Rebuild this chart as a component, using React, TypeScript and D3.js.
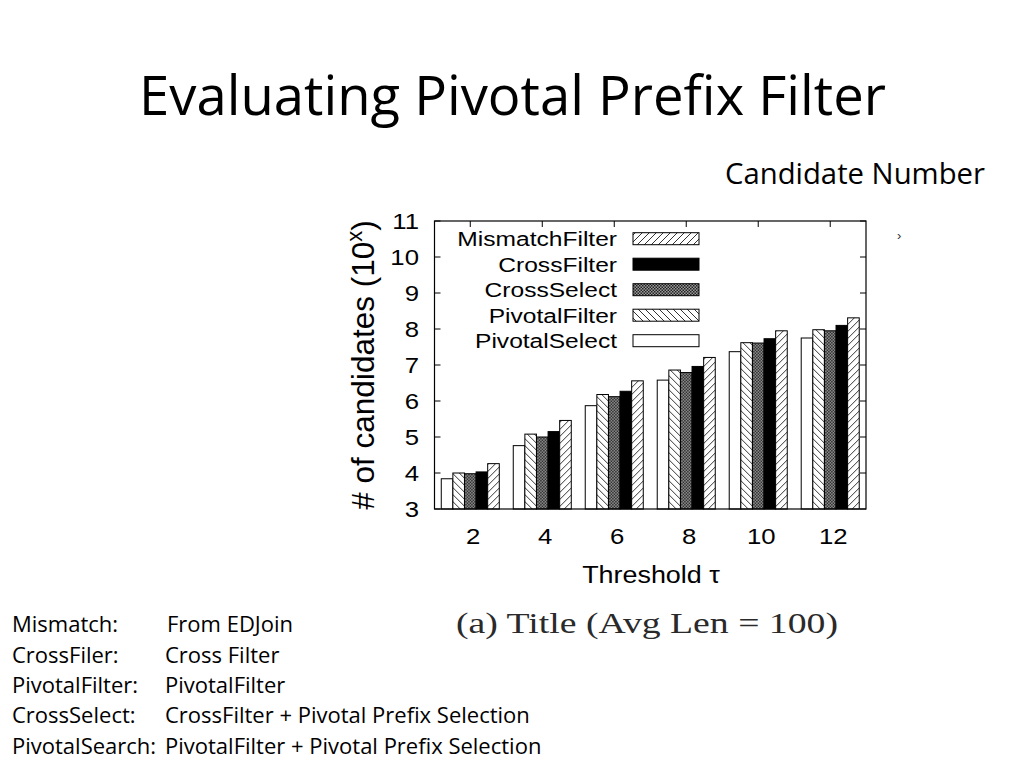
import React from "react";
import * as d3 from "d3";

const thresholds = ["2", "4", "6", "8", "10", "12"];
const pivotalSelect = [3.84, 4.76, 5.87, 6.58, 7.37, 7.75];
const pivotalFilter = [4.0, 5.08, 6.18, 6.86, 7.62, 7.98];
const crossSelect = [3.98, 5.0, 6.12, 6.79, 7.61, 7.95];
const crossFilter = [4.03, 5.15, 6.27, 6.96, 7.73, 8.1];
const mismatchFilter = [4.26, 5.46, 6.56, 7.21, 7.95, 8.31];
const yTicks = [3, 4, 5, 6, 7, 8, 9, 10, 11];
const seriesNames = ["PivotalSelect", "PivotalFilter", "CrossSelect", "CrossFilter", "MismatchFilter"];
const legendOrder = ["MismatchFilter", "CrossFilter", "CrossSelect", "PivotalFilter", "PivotalSelect"];
const footerTerms = ["Mismatch:", "CrossFiler:", "PivotalFilter:", "CrossSelect:", "PivotalSearch:"];
const footerDescs = [
  "From EDJoin",
  "Cross Filter",
  "PivotalFilter",
  "CrossFilter + Pivotal Prefix Selection",
  "PivotalFilter + Pivotal Prefix Selection",
];

const seriesValues: Record<string, number[]> = {
  PivotalSelect: pivotalSelect,
  PivotalFilter: pivotalFilter,
  CrossSelect: crossSelect,
  CrossFilter: crossFilter,
  MismatchFilter: mismatchFilter,
};

const fills: Record<string, string> = {
  PivotalSelect: "#ffffff",
  PivotalFilter: "url(#hatchBack)",
  CrossSelect: "url(#checker)",
  CrossFilter: "#000000",
  MismatchFilter: "url(#hatchFwd)",
};

const sans = "'Liberation Sans', Arial, sans-serif";
const calibri = "'Open Sans', 'Noto Sans', sans-serif";

export default function App() {
  const left = 434.5;
  const right = 866;
  const top = 221;
  const bottom = 509;
  const sx = 1.17;

  const x = d3
    .scaleBand<string>()
    .domain(thresholds)
    .range([left, right])
    .paddingInner(0.194)
    .paddingOuter(0.094);
  const xi = d3.scaleBand<string>().domain(seriesNames).range([0, x.bandwidth()]);
  const y = d3.scaleLinear().domain([3, 11]).range([bottom, top]);

  const legendY = d3.scalePoint<string>().domain(legendOrder).range([238.7, 340.7]);

  return (
    <svg
      width={1024}
      height={768}
      style={{ position: "absolute", left: 0, top: 0, background: "#fff" }}
    >
      <defs>
        <pattern id="hatchFwd" patternUnits="userSpaceOnUse" width={7} height={7}>
          <rect width={7} height={7} fill="#fff" />
          <path d="M-1,1 l2,-2 M0,7 l7,-7 M6,8 l2,-2" stroke="#000" strokeWidth={0.8} />
        </pattern>
        <pattern id="hatchBack" patternUnits="userSpaceOnUse" width={7} height={7}>
          <rect width={7} height={7} fill="#fff" />
          <path d="M-1,6 l2,2 M0,0 l7,7 M6,-1 l2,2" stroke="#000" strokeWidth={0.8} />
        </pattern>
        <pattern id="checker" patternUnits="userSpaceOnUse" width={3} height={3}>
          <rect width={3} height={3} fill="#9a9a9a" />
          <rect width={1.5} height={1.5} fill="#222" />
          <rect x={1.5} y={1.5} width={1.5} height={1.5} fill="#222" />
        </pattern>
      </defs>

      {/* Title */}
      <text
        x={139}
        y={115}
        fontFamily={calibri}
        fontSize={54.5}
        textLength={747}
        lengthAdjust="spacingAndGlyphs"
        fill="#000"
      >
        Evaluating Pivotal Prefix Filter
      </text>
      <text
        x={725}
        y={184}
        fontFamily={calibri}
        fontSize={29.5}
        textLength={260}
        lengthAdjust="spacingAndGlyphs"
        fill="#000"
      >
        Candidate Number
      </text>
      <text x={897} y={240} fontFamily={sans} fontSize={13} fill="#333">
        ›
      </text>

      {/* ticks (drawn under bars) */}
      {yTicks.map((t) => (
        <g key={"yt" + t}>
          <line x1={left} x2={left + 6} y1={y(t)} y2={y(t)} stroke="#000" />
          <line x1={right - 6} x2={right} y1={y(t)} y2={y(t)} stroke="#000" />
          <text
            transform={`translate(419,${y(t)}) scale(${sx},1)`}
            textAnchor="end"
            dy="0.36em"
            fontFamily={sans}
            fontSize={22}
            fill="#000"
          >
            {t}
          </text>
        </g>
      ))}
      {thresholds.map((t) => {
        const cx = (x(t) as number) + x.bandwidth() / 2;
        return (
          <g key={"xt" + t}>
            <line x1={cx} x2={cx} y1={top} y2={top + 6} stroke="#000" />
            <line x1={cx} x2={cx} y1={bottom} y2={bottom - 6} stroke="#000" />
            <text
              transform={`translate(${cx + 3},${544}) scale(${sx},1)`}
              textAnchor="middle"
              fontFamily={sans}
              fontSize={22}
              fill="#000"
            >
              {t}
            </text>
          </g>
        );
      })}

      {/* bars */}
      {thresholds.map((t, i) => (
        <g key={"grp" + t} transform={`translate(${x(t)},0)`}>
          {seriesNames.map((s) => {
            const v = seriesValues[s][i];
            return (
              <rect
                key={s}
                x={xi(s)}
                y={y(v)}
                width={xi.bandwidth()}
                height={bottom - y(v)}
                fill={fills[s]}
                stroke="#000"
                strokeWidth={1}
              />
            );
          })}
        </g>
      ))}

      {/* frame */}
      <rect x={left} y={top} width={right - left} height={bottom - top} fill="none" stroke="#000" strokeWidth={1.2} />

      {/* legend */}
      {legendOrder.map((s) => {
        const ly = legendY(s) as number;
        return (
          <g key={"lg" + s}>
            <text
              transform={`translate(617,${ly}) scale(${sx},1)`}
              textAnchor="end"
              dy="0.36em"
              fontFamily={sans}
              fontSize={21}
              fill="#000"
            >
              {s}
            </text>
            <rect x={633} y={ly - 6} width={66} height={12} fill={fills[s]} stroke="#000" strokeWidth={1} />
          </g>
        );
      })}

      {/* axis labels */}
      <text
        transform={`translate(651,583) scale(${sx},1)`}
        textAnchor="middle"
        fontFamily={sans}
        fontSize={23}
        fill="#000"
      >
        Threshold τ
      </text>
      <text
        transform="translate(374,365) rotate(-90)"
        textAnchor="middle"
        fontFamily={sans}
        fontSize={31.5}
        fill="#000"
      >
        # of candidates (10
        <tspan dy={-12} fontSize={22}>x</tspan>
        <tspan dy={12}>)</tspan>
      </text>

      {/* caption */}
      <text
        x={456}
        y={633}
        fontFamily="'Liberation Serif', 'DejaVu Serif', serif"
        fontSize={29}
        textLength={382}
        lengthAdjust="spacingAndGlyphs"
        fill="#2a2a2a"
      >
        (a) Title (Avg Len = 100)
      </text>

      {/* footer */}
      {footerTerms.map((term, i) => (
        <g key={"ft" + i}>
          <text x={12} y={632.3 + i * 30.3} fontFamily={calibri} fontSize={22} fill="#000">
            {term}
          </text>
          <text x={i === 0 ? 167 : 165} y={632.3 + i * 30.3} fontFamily={calibri} fontSize={22} fill="#000">
            {footerDescs[i]}
          </text>
        </g>
      ))}
    </svg>
  );
}
